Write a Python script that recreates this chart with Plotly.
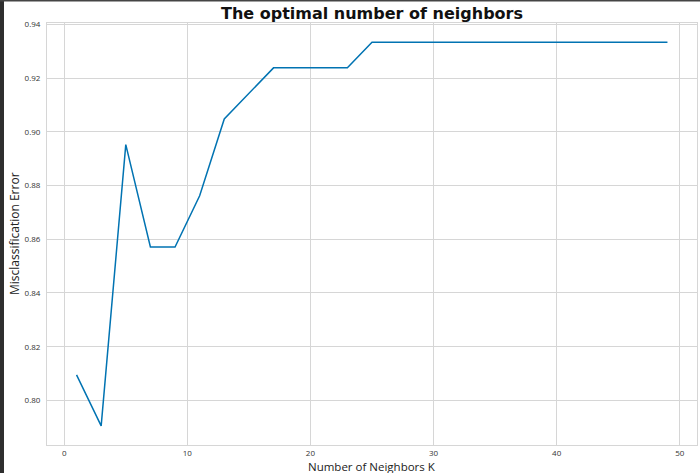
import plotly.graph_objects as go

k_values = list(range(1, 50, 2))
error_values = [0.8095, 0.7905, 0.8952, 0.8571, 0.8571, 0.8762, 0.9048, 0.9143, 0.9238, 0.9238,
                0.9238, 0.9238, 0.9333, 0.9333, 0.9333, 0.9333, 0.9333, 0.9333, 0.9333, 0.9333,
                0.9333, 0.9333, 0.9333, 0.9333, 0.9333]
x_ticks = [0, 10, 20, 30, 40, 50]
y_ticks = [0.80, 0.82, 0.84, 0.86, 0.88, 0.90, 0.92, 0.94]

W, H = 700, 473
L, R, T, B = 47, 3, 23, 28
pw, ph = W - L - R, H - T - B

def px(x):
    return (x - L) / pw

def py(y):
    return (H - B - y) / ph

grid = "#d6d6d6"

fig = go.Figure()
fig.add_trace(go.Scatter(x=k_values, y=error_values, mode="lines",
                         line=dict(color="#0173B2", width=1.5), showlegend=False))

fig.update_layout(
    width=W, height=H,
    margin=dict(l=L, r=R, t=T, b=B),
    paper_bgcolor="white", plot_bgcolor="white",
    title=dict(text="<b>The optimal number of neighbors</b>", x=0.5, xref="paper",
               y=1 - 13 / H, yref="container", xanchor="center", yanchor="middle",
               font=dict(family="DejaVu Sans", size=16, color="#111111")),
    xaxis=dict(range=[-1.4, 51.4], tickvals=x_ticks, showgrid=True, gridcolor=grid, gridwidth=1,
               zeroline=False, showline=True, linecolor=grid, linewidth=1, mirror=True,
               ticks="", tickfont=dict(family="Open Sans", size=8, color="#333333")),
    yaxis=dict(range=[0.7834, 0.9405], tickvals=y_ticks, tickformat=".2f", showgrid=True,
               gridcolor=grid, gridwidth=1, zeroline=False, showline=True, linecolor=grid,
               linewidth=1, mirror=True, ticks="outside", ticklen=4,
               tickcolor="rgba(0,0,0,0)",
               tickfont=dict(family="Open Sans", size=8, color="#333333")),
    annotations=[
        dict(text="Number of Neighbors K", x=0.5, y=py(466.5), xref="paper", yref="paper",
             xanchor="center", yanchor="middle", showarrow=False,
             font=dict(family="Open Sans", size=11.5, color="#222222")),
        dict(text="Misclassification Error", x=px(14), y=0.5, xref="paper", yref="paper",
             xanchor="center", yanchor="middle", showarrow=False, textangle=-90,
             font=dict(family="Open Sans", size=12, color="#222222")),
    ],
    shapes=[
        dict(type="rect", xref="paper", yref="paper", x0=px(0), x1=px(4), y0=py(H), y1=py(0),
             fillcolor="#2e2e2e", line=dict(width=0), layer="above"),
        dict(type="rect", xref="paper", yref="paper", x0=px(0), x1=px(W), y0=py(1.5), y1=py(0),
             fillcolor="#444444", line=dict(width=0), layer="above"),
    ],
)

fig.write_html("out.html", config={"displayModeBar": False},
               post_script="document.body.style.margin='0';document.body.style.overflow='hidden';")
